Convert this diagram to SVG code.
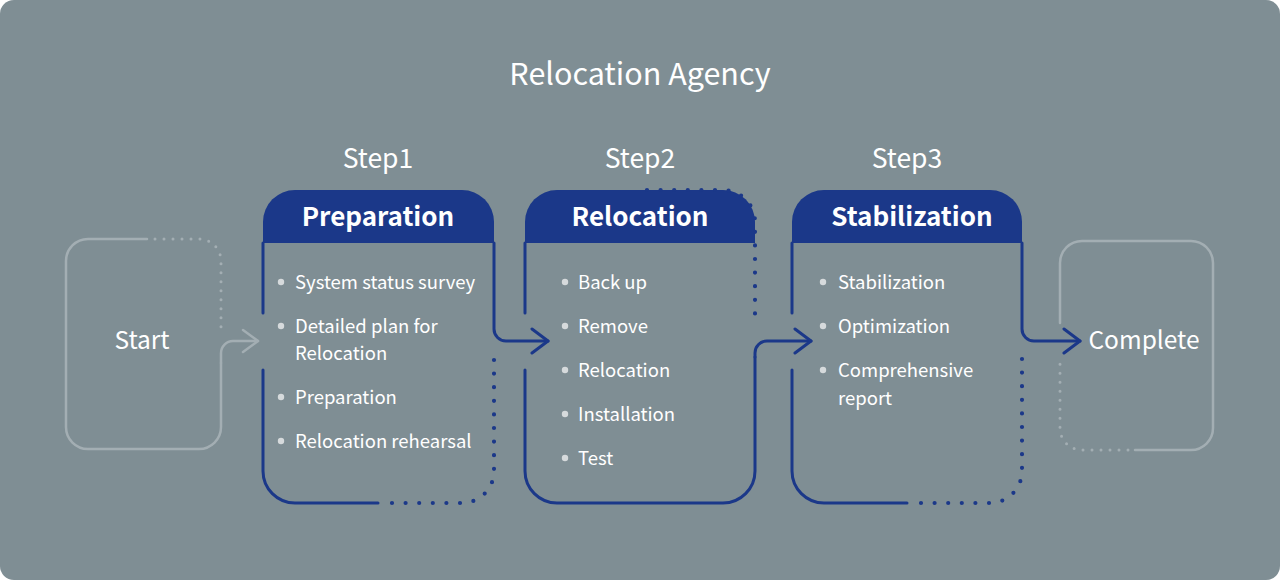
<svg xmlns="http://www.w3.org/2000/svg" width="1280" height="580" viewBox="0 0 1280 580">
<style>
.t{font-family:"Noto Sans CJK KR","Noto Sans",sans-serif;fill:#ffffff}
.title{font-size:30.5px;text-anchor:middle}
.step{font-size:26.5px;text-anchor:middle}
.hd{font-size:26px;font-weight:bold;text-anchor:middle}
.it{font-size:18.5px}
.end{font-size:24.5px;text-anchor:middle}
.bl{stroke:#1b3889;stroke-width:3;fill:none;stroke-linecap:round;stroke-linejoin:round}
.bd{stroke:#1b3889;stroke-width:4.2;fill:none;stroke-linecap:round;stroke-dasharray:0 13.6}
.gl{stroke:#a3aeb3;stroke-width:2.5;fill:none;stroke-linecap:round}
.gd{stroke:#a3aeb3;stroke-width:3;fill:none;stroke-linecap:round;stroke-dasharray:0 9}
.hf{fill:#1b3889}
.dot{fill:#d6dadc}
</style>
<defs>
<marker id="ab" markerUnits="userSpaceOnUse" viewBox="-18 -14 20 28" refX="0" refY="0" markerWidth="20" markerHeight="28" orient="auto">
<path d="M-16,-12 L0,0 L-16,12" fill="none" stroke="#1b3889" stroke-width="3" stroke-linecap="round" stroke-linejoin="round"/>
</marker>
<marker id="ag" markerUnits="userSpaceOnUse" viewBox="-18 -14 20 28" refX="0" refY="0" markerWidth="20" markerHeight="28" orient="auto">
<path d="M-15,-11 L0,0 L-15,11" fill="none" stroke="#a3aeb3" stroke-width="2.5" stroke-linecap="round" stroke-linejoin="round"/>
</marker>
</defs>
<rect x="0" y="0" width="1280" height="580" rx="14" fill="#7f8e94"/>
<text class="t title" x="640" y="85">Relocation Agency</text>

<g id="start">
<path class="gl" d="M147,239 H88 A22,22 0 0 0 66,261 V427 A22,22 0 0 0 88,449 H199 A22,22 0 0 0 221,427 V363"/>
<path class="gd" d="M155,239 H199 A22,22 0 0 1 221,261 V330"/>
<text class="t end" x="142" y="349">Start</text>
</g>

<g id="preparation">
<text class="t step" x="378" y="168">Step1</text>
<path class="hf" d="M263,243 V222 A32,32 0 0 1 295,190 H462 A32,32 0 0 1 494,222 V243 Z"/>
<text class="t hd" x="378" y="226">Preparation</text>
<path class="bl" d="M263,243 V313 M263,370 V471 A32,32 0 0 0 295,503 H378"/>
<path class="bd" d="M392,503 H462 A32,32 0 0 0 494,471 V357"/>
<circle class="dot" cx="281" cy="282" r="3.2"/>
<circle class="dot" cx="281" cy="326" r="3.2"/>
<circle class="dot" cx="281" cy="397" r="3.2"/>
<circle class="dot" cx="281" cy="441" r="3.2"/>
<text class="t it" x="295" y="289">System status survey</text>
<text class="t it" x="295" y="333">Detailed plan for</text>
<text class="t it" x="295" y="360">Relocation</text>
<text class="t it" x="295" y="404">Preparation</text>
<text class="t it" x="295" y="448">Relocation rehearsal</text>
</g>

<g id="relocation">
<text class="t step" x="640" y="168">Step2</text>
<path class="hf" d="M525,243 V222 A32,32 0 0 1 557,190 H723 A32,32 0 0 1 755,222 V243 Z"/>
<path class="bd" d="M647,190 H723 A32,32 0 0 1 755,222 V327"/>
<text class="t hd" x="640" y="226">Relocation</text>
<path class="bl" d="M525,243 V313 M525,370 V471 A32,32 0 0 0 557,503 H723 A32,32 0 0 0 755,471 V357"/>
<circle class="dot" cx="565" cy="282" r="3.2"/>
<circle class="dot" cx="565" cy="326" r="3.2"/>
<circle class="dot" cx="565" cy="370" r="3.2"/>
<circle class="dot" cx="565" cy="414" r="3.2"/>
<circle class="dot" cx="565" cy="458" r="3.2"/>
<text class="t it" x="578" y="289">Back up</text>
<text class="t it" x="578" y="333">Remove</text>
<text class="t it" x="578" y="377">Relocation</text>
<text class="t it" x="578" y="421">Installation</text>
<text class="t it" x="578" y="465">Test</text>
</g>

<g id="stabilization">
<text class="t step" x="907" y="168">Step3</text>
<path class="hf" d="M792,243 V222 A32,32 0 0 1 824,190 H990 A32,32 0 0 1 1022,222 V243 Z"/>
<text class="t hd" x="912" y="226">Stabilization</text>
<path class="bl" d="M792,243 V313 M792,370 V471 A32,32 0 0 0 824,503 H907"/>
<path class="bd" d="M921,503 H990 A32,32 0 0 0 1022,471 V357"/>
<circle class="dot" cx="823" cy="282" r="3.2"/>
<circle class="dot" cx="823" cy="326" r="3.2"/>
<circle class="dot" cx="823" cy="370" r="3.2"/>
<text class="t it" x="838" y="289">Stabilization</text>
<text class="t it" x="838" y="333">Optimization</text>
<text class="t it" x="838" y="377">Comprehensive</text>
<text class="t it" x="838" y="405">report</text>
</g>

<g id="complete">
<path class="gl" d="M1060,323 V263 A22,22 0 0 1 1082,241 H1191 A22,22 0 0 1 1213,263 V428 A22,22 0 0 1 1191,450 H1135"/>
<path class="gd" d="M1128,450 H1082 A22,22 0 0 1 1060,428 V362"/>
<text class="t end" x="1144" y="349">Complete</text>
</g>

<g id="connectors">
<path class="gl" d="M221,363 V353 A12,12 0 0 1 233,341 H258" marker-end="url(#ag)"/>
<path class="bl" d="M494,243 V329 A12,12 0 0 0 506,341 H548" marker-end="url(#ab)"/>
<path class="bl" d="M755,357 V353 A12,12 0 0 1 767,341 H811" marker-end="url(#ab)"/>
<path class="bl" d="M1022,243 V329 A12,12 0 0 0 1034,341 H1080" marker-end="url(#ab)"/>
</g>
</svg>
